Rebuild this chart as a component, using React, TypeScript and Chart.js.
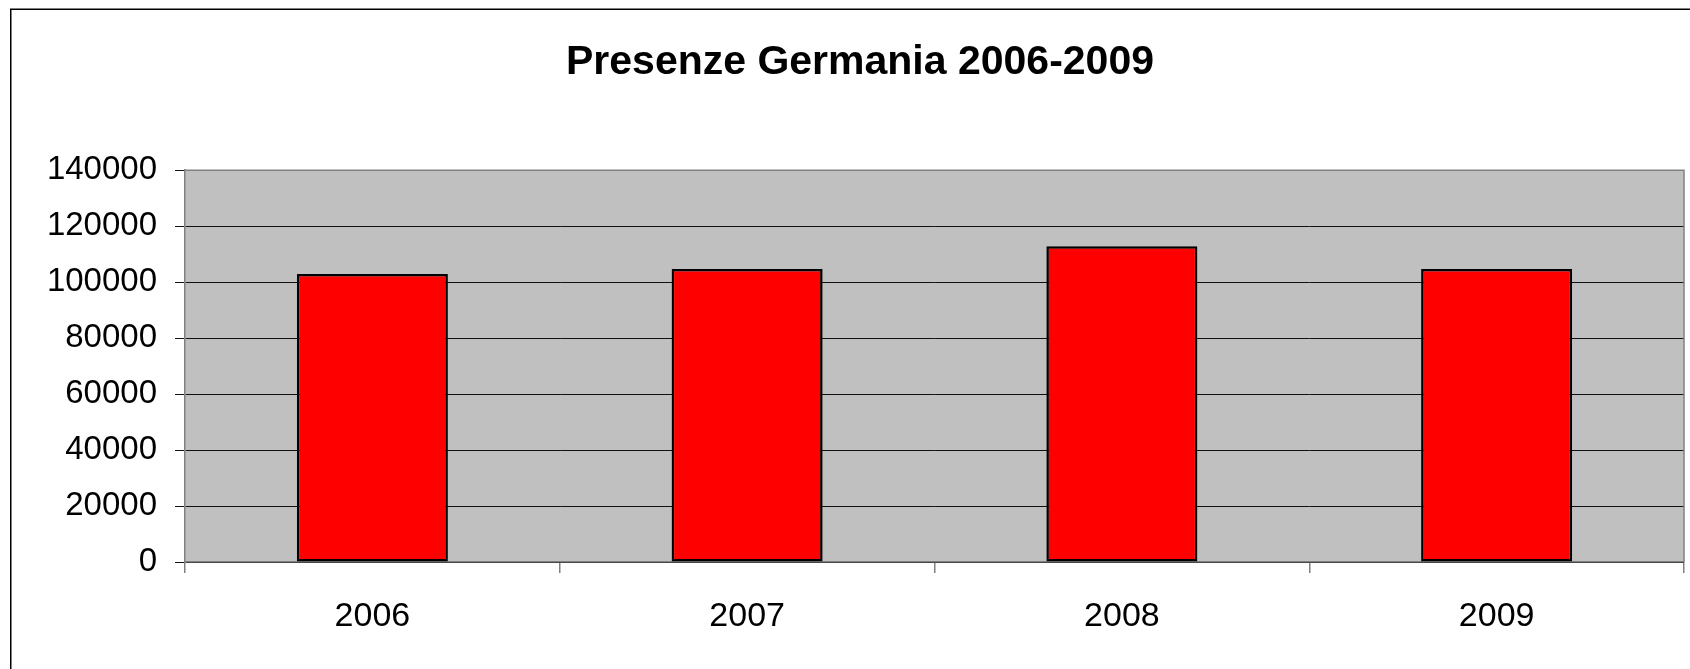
import React, { useEffect, useRef } from "react";
import { Chart, registerables } from "chart.js";

Chart.register(...registerables);

const categories: string[] = ["2006", "2007", "2008", "2009"];
const presenze: number[] = [102900, 104700, 112800, 104700];
const titleText = "Presenze Germania 2006-2009";
const yMax = 140000;
const yStep = 20000;

const FONT = "'Liberation Sans', Arial, Helvetica, sans-serif";

const framePlugin = {
  id: "frame",
  beforeDraw(chart: any) {
    const { ctx, chartArea, width, height } = chart;
    ctx.save();
    ctx.fillStyle = "#ffffff";
    ctx.fillRect(0, 0, width, height);
    ctx.strokeStyle = "#000000";
    ctx.lineWidth = 1.5;
    ctx.strokeRect(10.75, 9.25, width + 40, height + 40);
    ctx.fillStyle = "#C0C0C0";
    ctx.fillRect(chartArea.left, chartArea.top, chartArea.right - chartArea.left, chartArea.bottom - chartArea.top);
    ctx.restore();
  },
  beforeDatasetsDraw(chart: any) {
    const { ctx, chartArea } = chart;
    ctx.save();
    ctx.strokeStyle = "#808080";
    ctx.lineWidth = 1.5;
    ctx.beginPath();
    ctx.moveTo(chartArea.left, chartArea.top);
    ctx.lineTo(chartArea.right, chartArea.top);
    ctx.lineTo(chartArea.right, chartArea.bottom);
    ctx.stroke();
    ctx.restore();
  },
};

export default function App() {
  const ref = useRef<HTMLCanvasElement | null>(null);

  useEffect(() => {
    if (!ref.current) return;
    const chart = new Chart(ref.current, {
      type: "bar",
      data: {
        labels: categories,
        datasets: [
          {
            label: "Presenze",
            data: presenze,
            backgroundColor: "#FF0000",
            borderColor: "#000000",
            borderWidth: 2.5,
            borderSkipped: false,
            categoryPercentage: 1,
            barPercentage: 0.403,
          },
        ],
      },
      options: {
        animation: false,
        responsive: false,
        maintainAspectRatio: false,
        devicePixelRatio: 1,
        layout: { padding: { left: 36, right: 6, top: 0, bottom: 0 } },
        plugins: {
          legend: { display: false },
          tooltip: { enabled: false },
          title: {
            display: true,
            text: titleText,
            color: "#000000",
            font: { family: FONT, size: 41, weight: "bold", lineHeight: 1.2 },
            padding: { top: 38, bottom: 83 },
          },
        },
        scales: {
          x: {
            afterFit(scale: any) {
              scale.height = 107;
            },
            grid: {
              display: true,
              offset: true,
              drawOnChartArea: false,
              drawTicks: true,
              tickLength: 11,
              color: "#808080",
              lineWidth: 1.5,
            },
            border: { display: true, color: "#808080", width: 1.5 },
            ticks: {
              color: "#000000",
              padding: 23,
              font: { family: FONT, size: 34, lineHeight: 1.2 },
              maxRotation: 0,
            },
          },
          y: {
            min: 0,
            max: yMax,
            afterFit(scale: any) {
              scale.width = 149;
            },
            grid: {
              display: true,
              drawTicks: true,
              tickLength: 10,
              color: "#111111",
              lineWidth: 1,
            },
            border: { display: true, color: "#808080", width: 1.5 },
            ticks: {
              stepSize: yStep,
              color: "#000000",
              padding: 18,
              font: { family: FONT, size: 33, lineHeight: 1.2 },
              callback: (v: any) => String(v),
            },
          },
        },
      },
      plugins: [framePlugin],
    });
    return () => chart.destroy();
  }, []);

  return (
    <div
      style={{
        position: "fixed",
        left: 0,
        top: 0,
        width: 1690,
        height: 669,
        background: "#ffffff",
        overflow: "hidden",
      }}
    >
      <canvas ref={ref} width={1690} height={669} style={{ width: 1690, height: 669, display: "block" }} />
    </div>
  );
}
